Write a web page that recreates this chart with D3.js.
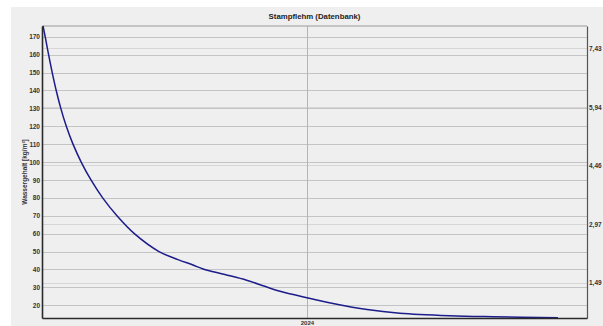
<!DOCTYPE html>
<html>
<head>
<meta charset="utf-8">
<script src="https://cdn.jsdelivr.net/npm/d3@7/dist/d3.min.js"></script>
<style>
  html, body { margin: 0; padding: 0; background: #ffffff; }
  svg { display: block; font-family: "Liberation Sans", Arial, sans-serif; }
</style>
</head>
<body>
<svg id="chart" width="603" height="326"></svg>
<script>
// Water content of rammed earth over time (timestamps: date and hour)
const dates = [
  "2023-01-02 10", "2023-01-05 10", "2023-01-10 02", "2023-01-15 02", "2023-01-20 14",
  "2023-01-26 22", "2023-02-03 12", "2023-02-12 17", "2023-02-24 00", "2023-03-09 12",
  "2023-03-25 14", "2023-04-14 07", "2023-05-08 07", "2023-06-11 05", "2023-07-07 10",
  "2023-07-28 02", "2023-08-10 22", "2023-09-10 00", "2023-10-10 00", "2023-11-04 00",
  "2023-11-25 00", "2024-01-01 00", "2024-02-06 00", "2024-03-24 00", "2024-05-08 00",
  "2024-07-16 00", "2024-09-13 00", "2024-12-12 00"
];
const waterContent = [
  176, 170, 160, 150, 140,
  130, 120, 110, 100, 90,
  80, 70, 60, 50, 45.5,
  42.5, 40.3, 37.2, 34, 30.6,
  27.8, 24.2, 21.0, 17.6, 15.6,
  14.2, 13.6, 13.0
];
const leftTicks = [20, 30, 40, 50, 60, 70, 80, 90, 100, 110, 120, 130, 140, 150, 160, 170];
const rightTicks = [1.49, 2.97, 4.46, 5.94, 7.43];
const xTickDates = ["2024-01-01 00"];
const timeDomain = ["2023-01-01 00", "2025-01-21 00"];
const leftDomain = [12.9, 176];
const rightDomain = [0.6, 7.99];

const parse = d3.timeParse("%Y-%m-%d %H");
const points = dates.map((d, i) => ({ t: parse(d), v: waterContent[i] }));

const svg = d3.select("#chart");
const m = { left: 42, right: 587, top: 26, bottom: 318 };

// panel background
svg.append("rect")
  .attr("x", 11).attr("y", 7)
  .attr("width", 603 - 11).attr("height", 326 - 7)
  .attr("fill", "#efefef");

const x = d3.scaleTime().domain(timeDomain.map(parse)).range([m.left, m.right]);
const y = d3.scaleLinear().domain(leftDomain).range([m.bottom, m.top]);
const yR = d3.scaleLinear().domain(rightDomain).range([m.bottom, m.top]);

// right-axis grid lines (lighter)
svg.append("g")
  .selectAll("line").data(rightTicks).join("line")
  .attr("x1", m.left).attr("x2", m.right)
  .attr("y1", d => Math.round(yR(d)) + 0.5).attr("y2", d => Math.round(yR(d)) + 0.5)
  .attr("stroke", "#d6d6d6").attr("stroke-width", 1);

// left-axis grid lines
svg.append("g")
  .selectAll("line").data(leftTicks).join("line")
  .attr("x1", m.left).attr("x2", m.right)
  .attr("y1", d => Math.round(y(d)) + 0.5).attr("y2", d => Math.round(y(d)) + 0.5)
  .attr("stroke", "#c4c4c4").attr("stroke-width", 1.2);

// vertical year grid line
svg.append("g")
  .selectAll("line").data(xTickDates.map(parse)).join("line")
  .attr("x1", d => Math.round(x(d)) + 0.5).attr("x2", d => Math.round(x(d)) + 0.5)
  .attr("y1", m.top).attr("y2", m.bottom)
  .attr("stroke", "#b4b4b4").attr("stroke-width", 1);

// plot frame: top
svg.append("line").attr("x1", m.left).attr("x2", m.right)
  .attr("y1", m.top).attr("y2", m.top)
  .attr("stroke", "#9a9a9a").attr("stroke-width", 1);

// curve
const line = d3.line().x(d => x(d.t)).y(d => y(d.v)).curve(d3.curveCatmullRom.alpha(0.5));
svg.append("path")
  .datum(points)
  .attr("d", line)
  .attr("fill", "none")
  .attr("stroke", "#1c1c8a")
  .attr("stroke-width", 1.5);

// left axis
const axL = svg.append("g")
  .attr("transform", `translate(${m.left},0)`)
  .call(d3.axisLeft(y).tickValues(leftTicks).tickSize(0).tickPadding(2).tickFormat(d3.format("d")));
axL.select(".domain").attr("stroke", "#2a2a2a").attr("stroke-width", 1.6);
axL.selectAll("text")
  .attr("font-family", "Liberation Sans, Arial, sans-serif")
  .attr("font-size", 6.5).attr("font-weight", "bold").attr("fill", "#333");

// right axis
const fmtComma = d => d.toFixed(2).replace(".", ",");
const axR = svg.append("g")
  .attr("transform", `translate(${m.right},0)`)
  .call(d3.axisRight(yR).tickValues(rightTicks).tickSize(0).tickPadding(2).tickFormat(fmtComma));
axR.select(".domain").attr("stroke", "#555").attr("stroke-width", 1.2);
axR.selectAll("text")
  .attr("font-family", "Liberation Sans, Arial, sans-serif")
  .attr("font-size", 6.5).attr("font-weight", "bold").attr("fill", "#333");

// bottom axis
const axB = svg.append("g")
  .attr("transform", `translate(0,${m.bottom})`)
  .call(d3.axisBottom(x).tickValues(xTickDates.map(parse)).tickSize(0).tickPadding(2.5)
    .tickFormat(d3.timeFormat("%Y")));
axB.select(".domain").attr("stroke", "#2a2a2a").attr("stroke-width", 1.6);
axB.selectAll("text")
  .attr("font-family", "Liberation Sans, Arial, sans-serif")
  .attr("font-size", 6).attr("font-weight", "bold").attr("fill", "#333");

// title
svg.append("text")
  .attr("x", (m.left + m.right) / 2).attr("y", 18.5)
  .attr("text-anchor", "middle")
  .attr("font-size", 7.8).attr("font-weight", "bold").attr("fill", "#222")
  .text("Stampflehm (Datenbank)");

// y axis title
svg.append("text")
  .attr("transform", `translate(27,${(m.top + m.bottom) / 2}) rotate(-90)`)
  .attr("text-anchor", "middle")
  .attr("font-size", 6.5).attr("font-weight", "bold").attr("fill", "#333")
  .text("Wassergehalt [kg/m³]");
</script>
</body>
</html>
